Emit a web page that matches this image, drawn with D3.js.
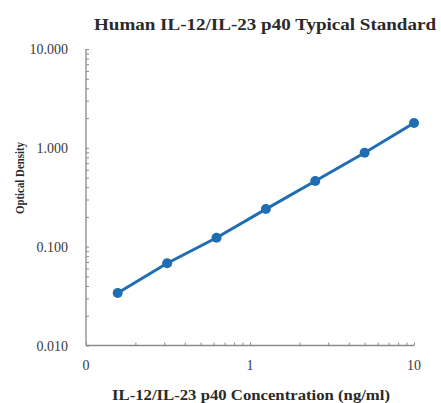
<!DOCTYPE html>
<html>
<head>
<meta charset="utf-8">
<script src="https://cdn.jsdelivr.net/npm/d3@7"></script>
<style>
  body { margin: 0; background: #fff; }
  text { font-family: "Liberation Serif", "Times New Roman", serif; }
</style>
</head>
<body>
<svg id="chart" width="441" height="403"></svg>
<script>
// standard curve data
var concentration = [0.156, 0.3125, 0.625, 1.25, 2.5, 5, 10];
var opticalDensity = [0.034, 0.068, 0.123, 0.240, 0.462, 0.893, 1.78];
var xTickValues = [0.1, 1, 10];
var xTickLabels = ["0", "1", "10"];
var yTickValues = [0.01, 0.1, 1, 10];
var yTickLabels = ["0.010", "0.100", "1.000", "10.000"];

var svg = d3.select("#chart");
var mLeft = 86, mRight = 414, mTop = 49, mBottom = 345.5;

var x = d3.scaleLog().domain([0.1, 10]).range([mLeft, mRight]);
var y = d3.scaleLog().domain([0.01, 10]).range([mBottom, mTop]);

var axisColor = "#8a8a8a";
var textColor = "#3a3a3a";
var blue = "#1f6db3";

// minor ticks
var xMinor = [];
var yMinor = [];
[0.1, 1].forEach(function(d) { for (var k = 2; k <= 9; k++) xMinor.push(d * k); });
[0.01, 0.1, 1].forEach(function(d) { for (var k = 2; k <= 9; k++) yMinor.push(d * k); });

var xAxis = d3.axisBottom(x).tickValues(xTickValues.concat(xMinor))
  .tickSize(-3).tickFormat("");
var yAxis = d3.axisLeft(y).tickValues(yTickValues.concat(yMinor))
  .tickSize(-3).tickFormat("");

var gx = svg.append("g").attr("transform", "translate(0," + mBottom + ")").call(xAxis);
var gy = svg.append("g").attr("transform", "translate(" + mLeft + ",0)").call(yAxis);
[gx, gy].forEach(function(g) {
  g.select(".domain").attr("stroke", axisColor).attr("stroke-width", 1.3);
  g.selectAll(".tick line").attr("stroke", axisColor).attr("stroke-width", 1);
});
gx.select(".domain").attr("d", "M" + mLeft + ",0H" + mRight);
gy.select(".domain").attr("d", "M0," + mTop + "V" + mBottom);

// tick labels
svg.selectAll(".xlab").data(xTickValues).enter().append("text")
  .attr("x", function(d) { return x(d); })
  .attr("y", 370)
  .attr("text-anchor", "middle")
  .attr("font-size", 14)
  .attr("fill", textColor)
  .text(function(d, i) { return xTickLabels[i]; });

svg.selectAll(".ylab").data(yTickValues).enter().append("text")
  .attr("x", 68)
  .attr("y", function(d) { return y(d) + 5; })
  .attr("text-anchor", "end")
  .attr("font-size", 14)
  .attr("fill", textColor)
  .text(function(d, i) { return yTickLabels[i]; });

// line + markers
var line = d3.line()
  .x(function(d, i) { return x(concentration[i]); })
  .y(function(d) { return y(d); });

svg.append("path")
  .datum(opticalDensity)
  .attr("d", line)
  .attr("fill", "none")
  .attr("stroke", blue)
  .attr("stroke-width", 3);

svg.selectAll(".pt").data(opticalDensity).enter().append("circle")
  .attr("cx", function(d, i) { return x(concentration[i]); })
  .attr("cy", function(d) { return y(d); })
  .attr("r", 5)
  .attr("fill", blue);

// titles
svg.append("text")
  .attr("x", 265).attr("y", 30)
  .attr("text-anchor", "middle")
  .attr("font-size", 17)
  .attr("font-weight", "bold")
  .attr("fill", "#2a2a2a")
  .attr("textLength", 342)
  .attr("lengthAdjust", "spacingAndGlyphs")
  .text("Human IL-12/IL-23 p40 Typical Standard");

svg.append("text")
  .attr("x", 251).attr("y", 400)
  .attr("text-anchor", "middle")
  .attr("font-size", 14)
  .attr("font-weight", "bold")
  .attr("fill", "#2a2a2a")
  .attr("textLength", 278)
  .attr("lengthAdjust", "spacingAndGlyphs")
  .text("IL-12/IL-23 p40 Concentration (ng/ml)");

svg.append("text")
  .attr("transform", "translate(24,178) rotate(-90)")
  .attr("text-anchor", "middle")
  .attr("font-size", 12.5)
  .attr("font-weight", "bold")
  .attr("fill", "#2a2a2a")
  .attr("textLength", 72)
  .attr("lengthAdjust", "spacingAndGlyphs")
  .text("Optical Density");
</script>
</body>
</html>
